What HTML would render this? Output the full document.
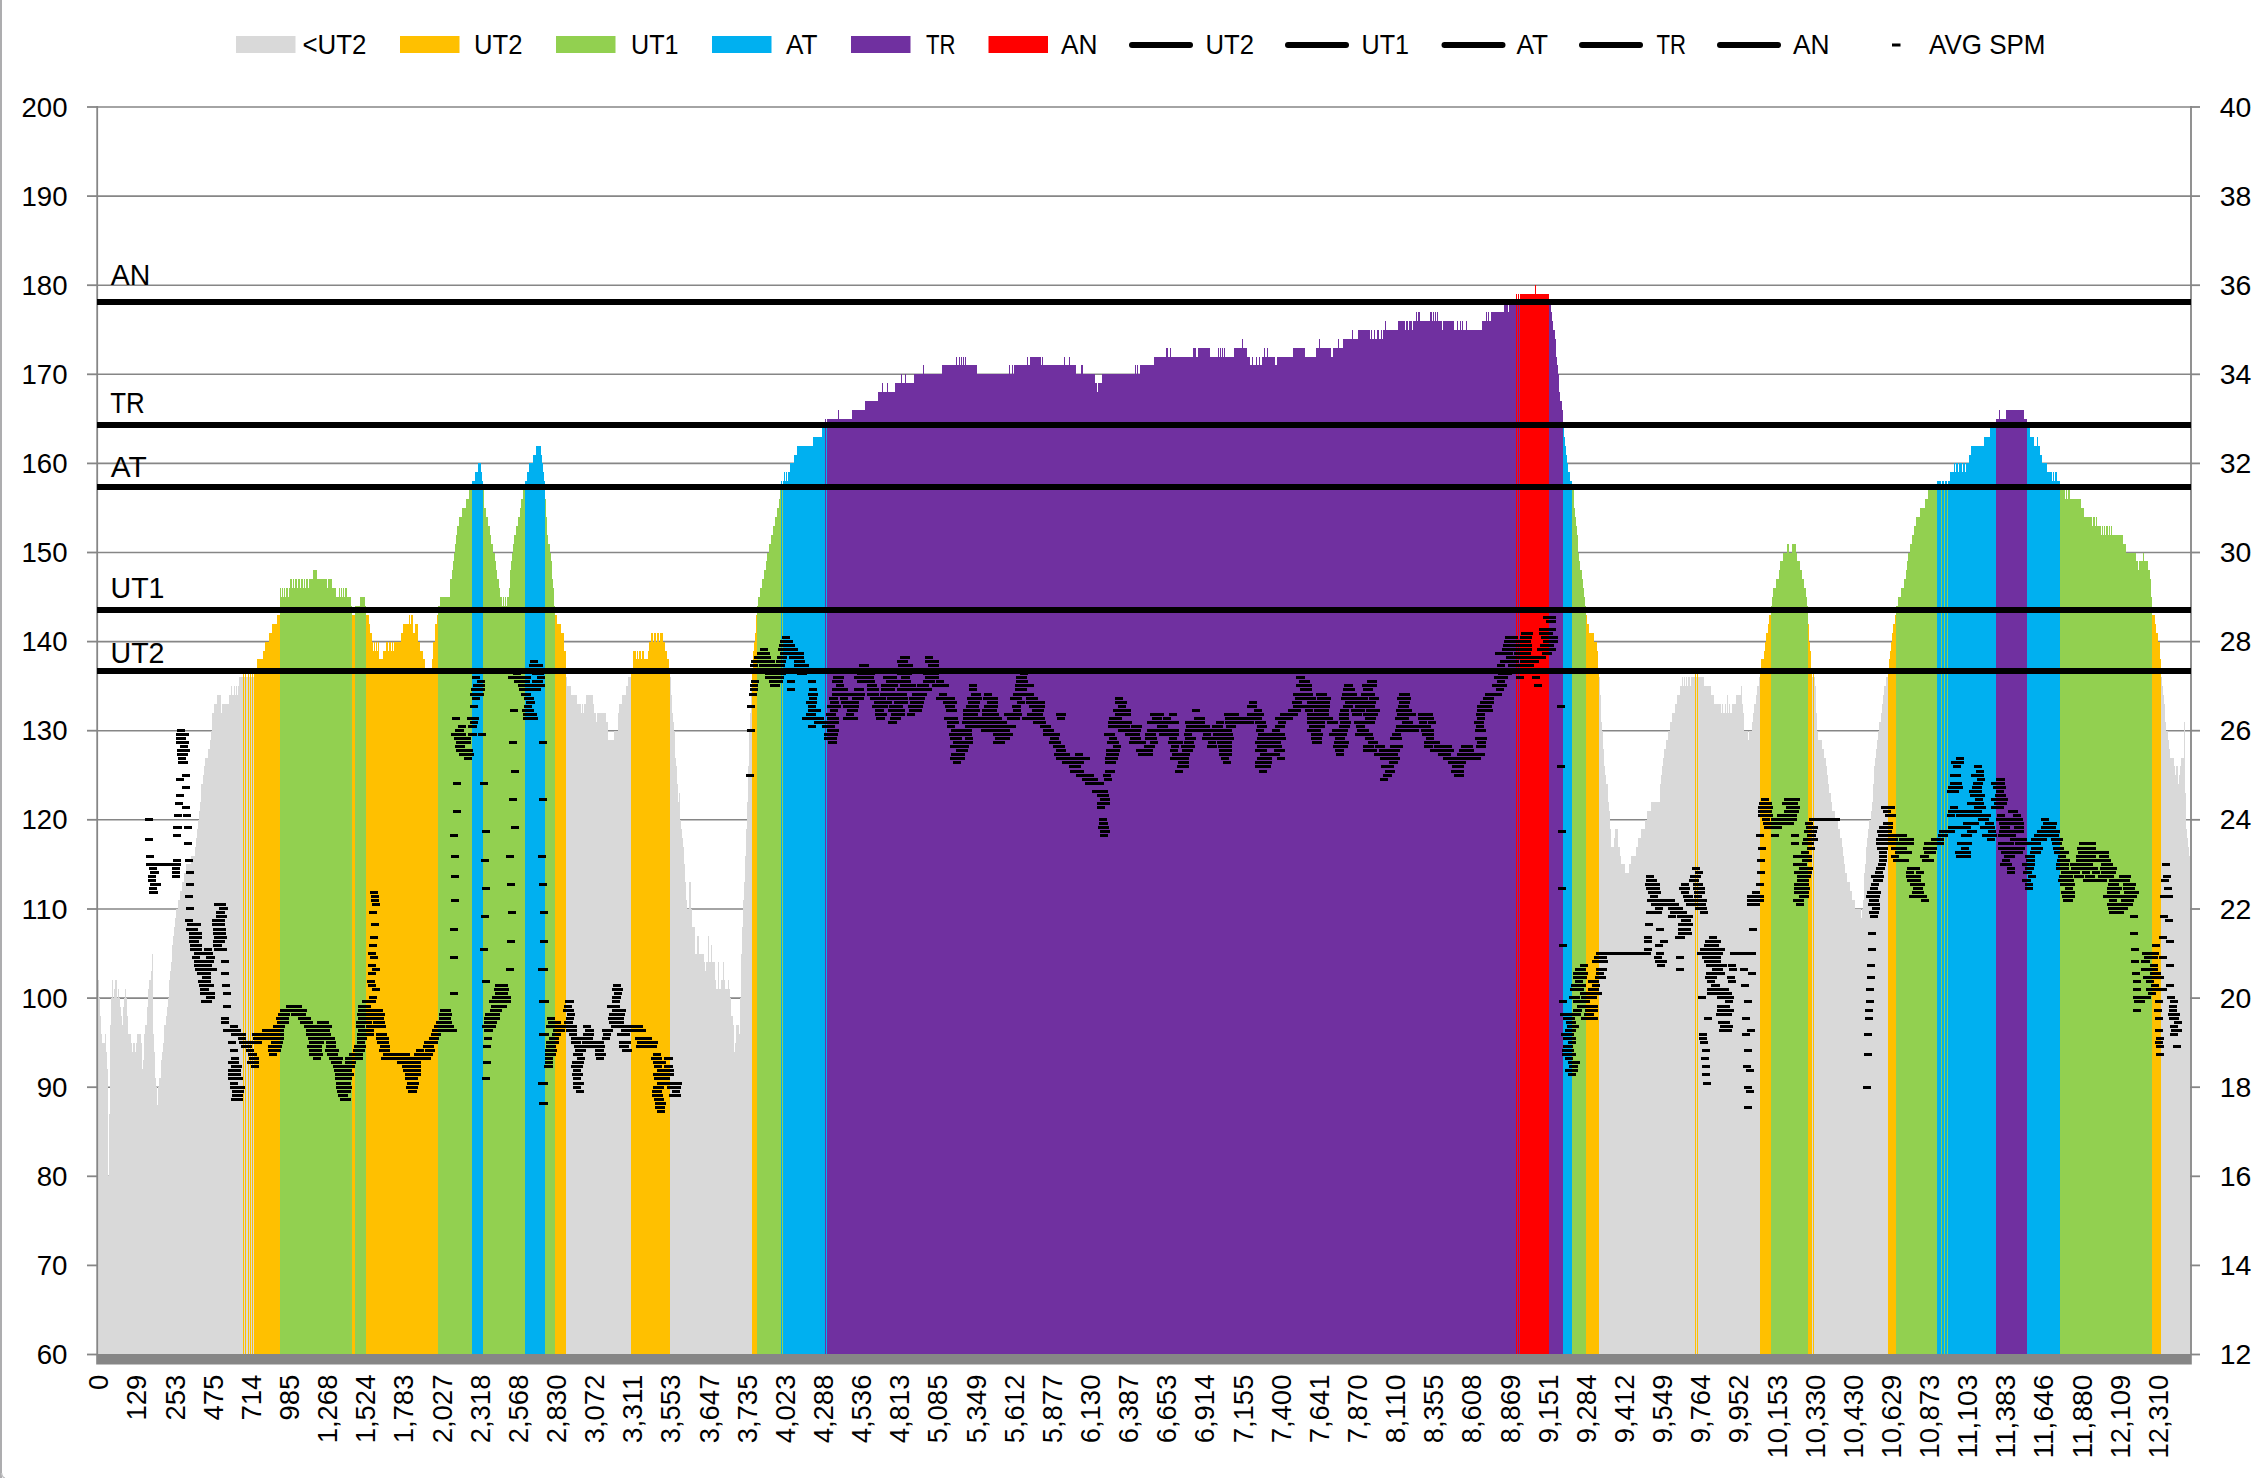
<!DOCTYPE html><html><head><meta charset="utf-8"><title>chart</title><style>html,body{margin:0;padding:0;background:#fff}svg{display:block}text{font-family:"Liberation Sans",sans-serif;fill:#000}</style></head><body>
<svg width="2268" height="1478" viewBox="0 0 2268 1478">
<rect width="2268" height="1478" fill="#fff"/>
<rect x="0" y="0" width="2" height="1478" fill="#ADADAF"/><path d="M1.5 1473Q2 1477.5 5 1478" fill="none" stroke="#C4C4C6" stroke-width="1.5"/>
<g stroke="#868686" stroke-width="1.6">
<line x1="97" y1="1265.4" x2="2191" y2="1265.4"/>
<line x1="97" y1="1176.3" x2="2191" y2="1176.3"/>
<line x1="97" y1="1087.2" x2="2191" y2="1087.2"/>
<line x1="97" y1="998.1" x2="2191" y2="998.1"/>
<line x1="97" y1="909.0" x2="2191" y2="909.0"/>
<line x1="97" y1="819.8" x2="2191" y2="819.8"/>
<line x1="97" y1="730.7" x2="2191" y2="730.7"/>
<line x1="97" y1="641.6" x2="2191" y2="641.6"/>
<line x1="97" y1="552.5" x2="2191" y2="552.5"/>
<line x1="97" y1="463.4" x2="2191" y2="463.4"/>
<line x1="97" y1="374.3" x2="2191" y2="374.3"/>
<line x1="97" y1="285.2" x2="2191" y2="285.2"/>
<line x1="97" y1="196.1" x2="2191" y2="196.1"/>
<line x1="97" y1="107.0" x2="2191" y2="107.0"/>
</g>
<g shape-rendering="crispEdges">
<path fill="#D9D9D9" d="M98 980.2h1V1355h-1zM99 998.1h1V1355h-1zM100 1015.9h1V1355h-1zM101 1033.7h1V1355h-1zM102 1042.6h3V1355h-3zM105 1033.7h1V1355h-1zM106 1051.5h1V1355h-1zM107 1069.3h1V1355h-1zM108 1176.3h1V1355h-1zM109 1113.9h1V1355h-1zM110 1024.8h1V1355h-1zM111 998.1h1V1355h-1zM112 980.2h1V1355h-1zM113 998.1h1V1355h-1zM114 989.1h1V1355h-1zM115 980.2h2V1355h-2zM117 998.1h1V1355h-1zM118 989.1h1V1355h-1zM119 998.1h1V1355h-1zM120 1007.0h1V1355h-1zM121 1015.9h1V1355h-1zM122 1024.8h1V1355h-1zM123 1007.0h1V1355h-1zM124 998.1h1V1355h-1zM125 989.1h1V1355h-1zM126 998.1h1V1355h-1zM127 1015.9h1V1355h-1zM128 1033.7h3V1355h-3zM131 1042.6h1V1355h-1zM132 1051.5h1V1355h-1zM133 1042.6h2V1355h-2zM135 1051.5h1V1355h-1zM136 1042.6h1V1355h-1zM137 1033.7h4V1355h-4zM141 1042.6h1V1355h-1zM142 1069.3h1V1355h-1zM143 1060.4h1V1355h-1zM144 1033.7h1V1355h-1zM145 1024.8h2V1355h-2zM147 1007.0h1V1355h-1zM148 989.1h1V1355h-1zM149 980.2h2V1355h-2zM151 971.3h1V1355h-1zM152 953.5h1V1355h-1zM153 1033.7h1V1355h-1zM154 1051.5h1V1355h-1zM155 1078.3h1V1355h-1zM156 1087.2h1V1355h-1zM157 1105.0h1V1355h-1zM158 1087.2h1V1355h-1zM159 1078.3h2V1355h-2zM161 1060.4h1V1355h-1zM162 1051.5h1V1355h-1zM163 1042.6h1V1355h-1zM164 1024.8h2V1355h-2zM166 1015.9h1V1355h-1zM167 1007.0h1V1355h-1zM168 998.1h1V1355h-1zM169 980.2h1V1355h-1zM170 971.3h1V1355h-1zM171 962.4h1V1355h-1zM172 944.6h1V1355h-1zM173 935.7h1V1355h-1zM174 926.8h1V1355h-1zM175 917.9h1V1355h-1zM176 909.0h2V1355h-2zM178 900.0h2V1355h-2zM180 891.1h2V1355h-2zM182 882.2h2V1355h-2zM184 873.3h2V1355h-2zM186 864.4h5V1355h-5zM191 855.5h4V1355h-4zM195 846.6h1V1355h-1zM196 837.7h1V1355h-1zM197 828.8h1V1355h-1zM198 819.8h1V1355h-1zM199 810.9h1V1355h-1zM200 802.0h1V1355h-1zM201 784.2h2V1355h-2zM203 775.3h1V1355h-1zM204 766.4h1V1355h-1zM205 757.5h3V1355h-3zM208 748.6h2V1355h-2zM210 739.6h1V1355h-1zM211 730.7h1V1355h-1zM212 712.9h2V1355h-2zM214 704.0h3V1355h-3zM217 695.1h4V1355h-4zM221 712.9h1V1355h-1zM222 704.0h7V1355h-7zM229 695.1h2V1355h-2zM231 686.2h1V1355h-1zM232 695.1h2V1355h-2zM234 686.2h1V1355h-1zM235 695.1h1V1355h-1zM236 686.2h1V1355h-1zM237 695.1h1V1355h-1zM238 686.2h1V1355h-1zM239 677.3h4V1355h-4zM244 677.3h1V1355h-1zM246 677.3h2V1355h-2zM249 677.3h1V1355h-1zM251 677.3h1V1355h-1zM253 677.3h1V1355h-1zM566 677.3h1V1355h-1zM567 686.2h4V1355h-4zM571 695.1h6V1355h-6zM577 704.0h4V1355h-4zM581 712.9h1V1355h-1zM582 704.0h1V1355h-1zM583 712.9h1V1355h-1zM584 704.0h2V1355h-2zM586 695.1h7V1355h-7zM593 704.0h1V1355h-1zM594 712.9h2V1355h-2zM596 721.8h1V1355h-1zM597 712.9h9V1355h-9zM606 721.8h2V1355h-2zM608 739.6h6V1355h-6zM614 730.7h4V1355h-4zM618 712.9h1V1355h-1zM619 704.0h3V1355h-3zM622 695.1h4V1355h-4zM626 686.2h2V1355h-2zM628 677.3h3V1355h-3zM670 677.3h1V1355h-1zM671 695.1h1V1355h-1zM672 712.9h1V1355h-1zM673 721.8h1V1355h-1zM674 730.7h1V1355h-1zM675 757.5h1V1355h-1zM676 766.4h1V1355h-1zM677 784.2h1V1355h-1zM678 802.0h1V1355h-1zM679 793.1h1V1355h-1zM680 819.8h1V1355h-1zM681 828.8h1V1355h-1zM682 837.7h1V1355h-1zM683 846.6h1V1355h-1zM684 864.4h1V1355h-1zM685 882.2h1V1355h-1zM686 900.0h1V1355h-1zM687 909.0h2V1355h-2zM689 882.2h2V1355h-2zM691 909.0h1V1355h-1zM692 926.8h3V1355h-3zM695 953.5h2V1355h-2zM697 935.7h2V1355h-2zM699 953.5h5V1355h-5zM704 962.4h1V1355h-1zM705 971.3h1V1355h-1zM706 962.4h2V1355h-2zM708 935.7h1V1355h-1zM709 962.4h2V1355h-2zM711 944.6h1V1355h-1zM712 962.4h3V1355h-3zM715 980.2h1V1355h-1zM716 989.1h2V1355h-2zM718 962.4h1V1355h-1zM719 989.1h2V1355h-2zM721 980.2h2V1355h-2zM723 962.4h1V1355h-1zM724 980.2h1V1355h-1zM725 989.1h3V1355h-3zM728 980.2h1V1355h-1zM729 989.1h1V1355h-1zM730 998.1h1V1355h-1zM731 1015.9h2V1355h-2zM733 1024.8h1V1355h-1zM734 1051.5h1V1355h-1zM735 1042.6h1V1355h-1zM736 1024.8h3V1355h-3zM739 1033.7h1V1355h-1zM740 998.1h1V1355h-1zM741 953.5h1V1355h-1zM742 926.8h1V1355h-1zM743 900.0h1V1355h-1zM744 882.2h1V1355h-1zM745 855.5h1V1355h-1zM746 828.8h1V1355h-1zM747 802.0h1V1355h-1zM748 766.4h1V1355h-1zM749 730.7h1V1355h-1zM750 712.9h1V1355h-1zM751 686.2h1V1355h-1zM1599 677.3h1V1355h-1zM1600 695.1h1V1355h-1zM1601 721.8h1V1355h-1zM1602 730.7h1V1355h-1zM1603 748.6h1V1355h-1zM1604 766.4h1V1355h-1zM1605 775.3h1V1355h-1zM1606 784.2h2V1355h-2zM1608 802.0h1V1355h-1zM1609 810.9h1V1355h-1zM1610 828.8h1V1355h-1zM1611 846.6h3V1355h-3zM1614 837.7h1V1355h-1zM1615 828.8h3V1355h-3zM1618 846.6h2V1355h-2zM1620 855.5h1V1355h-1zM1621 864.4h4V1355h-4zM1625 873.3h4V1355h-4zM1629 864.4h2V1355h-2zM1631 855.5h5V1355h-5zM1636 846.6h2V1355h-2zM1638 837.7h3V1355h-3zM1641 828.8h4V1355h-4zM1645 819.8h2V1355h-2zM1647 810.9h4V1355h-4zM1651 802.0h9V1355h-9zM1660 784.2h1V1355h-1zM1661 775.3h1V1355h-1zM1662 766.4h1V1355h-1zM1663 757.5h1V1355h-1zM1664 748.6h2V1355h-2zM1666 739.6h2V1355h-2zM1668 730.7h2V1355h-2zM1670 721.8h2V1355h-2zM1672 712.9h3V1355h-3zM1675 704.0h2V1355h-2zM1677 695.1h3V1355h-3zM1680 686.2h2V1355h-2zM1682 677.3h1V1355h-1zM1683 686.2h1V1355h-1zM1684 677.3h1V1355h-1zM1685 686.2h1V1355h-1zM1686 677.3h1V1355h-1zM1687 686.2h1V1355h-1zM1688 677.3h2V1355h-2zM1690 686.2h1V1355h-1zM1691 677.3h4V1355h-4zM1696 677.3h1V1355h-1zM1698 677.3h6V1355h-6zM1704 686.2h7V1355h-7zM1711 695.1h3V1355h-3zM1714 704.0h7V1355h-7zM1721 712.9h1V1355h-1zM1722 704.0h1V1355h-1zM1723 712.9h2V1355h-2zM1725 704.0h1V1355h-1zM1726 712.9h1V1355h-1zM1727 695.1h1V1355h-1zM1728 712.9h1V1355h-1zM1729 704.0h1V1355h-1zM1730 712.9h2V1355h-2zM1732 704.0h4V1355h-4zM1736 695.1h5V1355h-5zM1741 686.2h1V1355h-1zM1742 704.0h1V1355h-1zM1743 712.9h1V1355h-1zM1744 730.7h4V1355h-4zM1748 739.6h1V1355h-1zM1749 730.7h3V1355h-3zM1752 721.8h1V1355h-1zM1753 712.9h1V1355h-1zM1754 704.0h2V1355h-2zM1756 695.1h1V1355h-1zM1757 686.2h2V1355h-2zM1759 677.3h1V1355h-1zM1812 677.3h1V1355h-1zM1814 677.3h1V1355h-1zM1815 686.2h1V1355h-1zM1816 712.9h1V1355h-1zM1817 730.7h1V1355h-1zM1818 739.6h4V1355h-4zM1822 748.6h2V1355h-2zM1824 757.5h2V1355h-2zM1826 766.4h1V1355h-1zM1827 775.3h1V1355h-1zM1828 784.2h1V1355h-1zM1829 793.1h2V1355h-2zM1831 802.0h1V1355h-1zM1832 810.9h3V1355h-3zM1835 819.8h3V1355h-3zM1838 828.8h2V1355h-2zM1840 837.7h2V1355h-2zM1842 846.6h1V1355h-1zM1843 855.5h1V1355h-1zM1844 864.4h1V1355h-1zM1845 873.3h2V1355h-2zM1847 882.2h3V1355h-3zM1850 891.1h2V1355h-2zM1852 900.0h3V1355h-3zM1855 909.0h6V1355h-6zM1861 917.9h1V1355h-1zM1862 909.0h1V1355h-1zM1863 900.0h1V1355h-1zM1864 873.3h1V1355h-1zM1865 864.4h1V1355h-1zM1866 846.6h1V1355h-1zM1867 837.7h1V1355h-1zM1868 828.8h1V1355h-1zM1869 819.8h2V1355h-2zM1871 810.9h1V1355h-1zM1872 802.0h1V1355h-1zM1873 784.2h1V1355h-1zM1874 766.4h1V1355h-1zM1875 757.5h1V1355h-1zM1876 748.6h1V1355h-1zM1877 739.6h1V1355h-1zM1878 730.7h1V1355h-1zM1879 721.8h2V1355h-2zM1881 712.9h1V1355h-1zM1882 704.0h1V1355h-1zM1883 695.1h1V1355h-1zM1884 686.2h2V1355h-2zM1886 677.3h2V1355h-2zM2161 677.3h1V1355h-1zM2162 686.2h1V1355h-1zM2163 695.1h1V1355h-1zM2164 704.0h1V1355h-1zM2165 721.8h1V1355h-1zM2166 730.7h2V1355h-2zM2168 739.6h1V1355h-1zM2169 748.6h1V1355h-1zM2170 757.5h4V1355h-4zM2174 766.4h1V1355h-1zM2175 775.3h1V1355h-1zM2176 766.4h2V1355h-2zM2178 784.2h1V1355h-1zM2179 775.3h1V1355h-1zM2180 766.4h1V1355h-1zM2181 757.5h3V1355h-3zM2184 721.8h1V1355h-1zM2185 793.1h1V1355h-1zM2186 828.8h1V1355h-1zM2187 837.7h1V1355h-1zM2188 846.6h1V1355h-1zM2189 855.5h1V1355h-1z"/>
<path fill="#FFC000" d="M243 668.4h1V1355h-1zM245 668.4h1V1355h-1zM248 668.4h1V1355h-1zM250 668.4h1V1355h-1zM252 668.4h1V1355h-1zM254 668.4h3V1355h-3zM257 659.4h6V1355h-6zM263 650.5h2V1355h-2zM265 641.6h4V1355h-4zM269 632.7h3V1355h-3zM272 623.8h5V1355h-5zM277 614.9h3V1355h-3zM352 614.9h3V1355h-3zM366 614.9h3V1355h-3zM369 623.8h1V1355h-1zM370 632.7h2V1355h-2zM372 641.6h1V1355h-1zM373 650.5h1V1355h-1zM374 641.6h1V1355h-1zM375 650.5h1V1355h-1zM376 641.6h1V1355h-1zM377 650.5h1V1355h-1zM378 641.6h1V1355h-1zM379 659.4h4V1355h-4zM383 650.5h3V1355h-3zM386 641.6h2V1355h-2zM388 650.5h1V1355h-1zM389 641.6h2V1355h-2zM391 650.5h1V1355h-1zM392 641.6h1V1355h-1zM393 650.5h1V1355h-1zM394 641.6h7V1355h-7zM401 632.7h2V1355h-2zM403 623.8h6V1355h-6zM409 614.9h1V1355h-1zM410 623.8h1V1355h-1zM411 614.9h2V1355h-2zM413 632.7h2V1355h-2zM415 623.8h3V1355h-3zM418 641.6h2V1355h-2zM420 650.5h3V1355h-3zM423 659.4h2V1355h-2zM425 668.4h7V1355h-7zM432 659.4h1V1355h-1zM433 641.6h2V1355h-2zM435 623.8h2V1355h-2zM437 614.9h1V1355h-1zM555 614.9h2V1355h-2zM557 623.8h4V1355h-4zM561 632.7h3V1355h-3zM564 650.5h2V1355h-2zM631 668.4h2V1355h-2zM633 650.5h3V1355h-3zM636 659.4h1V1355h-1zM637 650.5h1V1355h-1zM638 659.4h1V1355h-1zM639 650.5h2V1355h-2zM641 659.4h1V1355h-1zM642 650.5h2V1355h-2zM644 659.4h4V1355h-4zM648 650.5h1V1355h-1zM649 641.6h2V1355h-2zM651 632.7h2V1355h-2zM653 641.6h1V1355h-1zM654 632.7h2V1355h-2zM656 641.6h1V1355h-1zM657 632.7h2V1355h-2zM659 641.6h1V1355h-1zM660 632.7h3V1355h-3zM663 641.6h2V1355h-2zM665 650.5h2V1355h-2zM667 659.4h2V1355h-2zM669 668.4h1V1355h-1zM752 668.4h1V1355h-1zM753 650.5h1V1355h-1zM754 641.6h1V1355h-1zM755 632.7h1V1355h-1zM756 614.9h1V1355h-1zM1586 614.9h1V1355h-1zM1587 623.8h2V1355h-2zM1589 632.7h5V1355h-5zM1594 641.6h3V1355h-3zM1597 650.5h1V1355h-1zM1598 668.4h1V1355h-1zM1695 668.4h1V1355h-1zM1697 668.4h1V1355h-1zM1760 668.4h1V1355h-1zM1761 659.4h3V1355h-3zM1764 650.5h1V1355h-1zM1765 641.6h1V1355h-1zM1766 632.7h2V1355h-2zM1768 623.8h1V1355h-1zM1769 614.9h2V1355h-2zM1808 623.8h1V1355h-1zM1809 641.6h1V1355h-1zM1810 650.5h1V1355h-1zM1811 668.4h1V1355h-1zM1813 668.4h1V1355h-1zM1888 668.4h1V1355h-1zM1889 659.4h1V1355h-1zM1890 650.5h1V1355h-1zM1891 641.6h1V1355h-1zM1892 632.7h1V1355h-1zM1893 623.8h2V1355h-2zM1895 614.9h1V1355h-1zM2152 614.9h3V1355h-3zM2155 623.8h1V1355h-1zM2156 632.7h2V1355h-2zM2158 641.6h2V1355h-2zM2160 659.4h1V1355h-1z"/>
<path fill="#92D050" d="M280 588.2h1V1355h-1zM281 597.1h1V1355h-1zM282 588.2h1V1355h-1zM283 597.1h1V1355h-1zM284 588.2h1V1355h-1zM285 597.1h1V1355h-1zM286 588.2h2V1355h-2zM288 597.1h1V1355h-1zM289 588.2h1V1355h-1zM290 579.2h2V1355h-2zM292 588.2h1V1355h-1zM293 579.2h1V1355h-1zM294 588.2h1V1355h-1zM295 579.2h2V1355h-2zM297 588.2h1V1355h-1zM298 579.2h2V1355h-2zM300 588.2h1V1355h-1zM301 579.2h2V1355h-2zM303 588.2h1V1355h-1zM304 579.2h1V1355h-1zM305 588.2h1V1355h-1zM306 579.2h2V1355h-2zM308 588.2h1V1355h-1zM309 579.2h4V1355h-4zM313 570.3h4V1355h-4zM317 579.2h10V1355h-10zM327 588.2h1V1355h-1zM328 579.2h4V1355h-4zM332 588.2h4V1355h-4zM336 597.1h3V1355h-3zM339 588.2h1V1355h-1zM340 597.1h1V1355h-1zM341 588.2h1V1355h-1zM342 597.1h1V1355h-1zM343 588.2h1V1355h-1zM344 597.1h1V1355h-1zM345 588.2h2V1355h-2zM347 597.1h4V1355h-4zM351 606.0h1V1355h-1zM355 606.0h5V1355h-5zM360 597.1h5V1355h-5zM365 606.0h1V1355h-1zM438 606.0h2V1355h-2zM440 597.1h10V1355h-10zM450 579.2h2V1355h-2zM452 570.3h1V1355h-1zM453 561.4h1V1355h-1zM454 552.5h1V1355h-1zM455 543.6h1V1355h-1zM456 534.7h1V1355h-1zM457 525.8h2V1355h-2zM459 516.9h3V1355h-3zM462 508.0h4V1355h-4zM466 499.0h3V1355h-3zM469 490.1h3V1355h-3zM483 490.1h1V1355h-1zM484 508.0h2V1355h-2zM486 516.9h2V1355h-2zM488 525.8h2V1355h-2zM490 534.7h1V1355h-1zM491 543.6h2V1355h-2zM493 552.5h2V1355h-2zM495 561.4h1V1355h-1zM496 570.3h1V1355h-1zM497 579.2h2V1355h-2zM499 588.2h1V1355h-1zM500 597.1h2V1355h-2zM502 606.0h1V1355h-1zM503 597.1h1V1355h-1zM504 606.0h1V1355h-1zM505 597.1h1V1355h-1zM506 606.0h1V1355h-1zM507 597.1h2V1355h-2zM509 588.2h1V1355h-1zM510 570.3h1V1355h-1zM511 561.4h1V1355h-1zM512 552.5h1V1355h-1zM513 543.6h1V1355h-1zM514 534.7h2V1355h-2zM516 525.8h2V1355h-2zM518 516.9h2V1355h-2zM520 508.0h1V1355h-1zM521 499.0h2V1355h-2zM523 490.1h2V1355h-2zM545 499.0h1V1355h-1zM546 516.9h1V1355h-1zM547 534.7h1V1355h-1zM548 543.6h2V1355h-2zM550 552.5h1V1355h-1zM551 561.4h1V1355h-1zM552 579.2h1V1355h-1zM553 588.2h1V1355h-1zM554 606.0h1V1355h-1zM757 606.0h1V1355h-1zM758 597.1h2V1355h-2zM760 588.2h2V1355h-2zM762 579.2h2V1355h-2zM764 570.3h2V1355h-2zM766 561.4h1V1355h-1zM767 552.5h2V1355h-2zM769 543.6h2V1355h-2zM771 534.7h2V1355h-2zM773 525.8h2V1355h-2zM775 516.9h2V1355h-2zM777 508.0h2V1355h-2zM779 499.0h1V1355h-1zM780 490.1h1V1355h-1zM782 490.1h1V1355h-1zM1572 490.1h2V1355h-2zM1574 508.0h1V1355h-1zM1575 516.9h1V1355h-1zM1576 525.8h1V1355h-1zM1577 534.7h1V1355h-1zM1578 552.5h1V1355h-1zM1579 561.4h1V1355h-1zM1580 570.3h2V1355h-2zM1582 579.2h1V1355h-1zM1583 588.2h1V1355h-1zM1584 597.1h1V1355h-1zM1585 606.0h1V1355h-1zM1771 606.0h1V1355h-1zM1772 597.1h1V1355h-1zM1773 588.2h3V1355h-3zM1776 579.2h3V1355h-3zM1779 570.3h1V1355h-1zM1780 561.4h3V1355h-3zM1783 552.5h4V1355h-4zM1787 543.6h2V1355h-2zM1789 552.5h3V1355h-3zM1792 543.6h4V1355h-4zM1796 552.5h1V1355h-1zM1797 561.4h3V1355h-3zM1800 570.3h2V1355h-2zM1802 579.2h2V1355h-2zM1804 588.2h2V1355h-2zM1806 597.1h1V1355h-1zM1807 606.0h1V1355h-1zM1896 606.0h2V1355h-2zM1898 597.1h3V1355h-3zM1901 588.2h3V1355h-3zM1904 579.2h2V1355h-2zM1906 570.3h1V1355h-1zM1907 561.4h1V1355h-1zM1908 552.5h2V1355h-2zM1910 543.6h2V1355h-2zM1912 534.7h2V1355h-2zM1914 525.8h2V1355h-2zM1916 516.9h4V1355h-4zM1920 508.0h5V1355h-5zM1925 499.0h3V1355h-3zM1928 490.1h9V1355h-9zM1941 490.1h1V1355h-1zM1944 490.1h1V1355h-1zM1947 490.1h1V1355h-1zM2060 490.1h5V1355h-5zM2065 499.0h1V1355h-1zM2066 490.1h1V1355h-1zM2067 499.0h1V1355h-1zM2068 490.1h2V1355h-2zM2070 499.0h11V1355h-11zM2081 508.0h3V1355h-3zM2084 516.9h8V1355h-8zM2092 525.8h1V1355h-1zM2093 516.9h2V1355h-2zM2095 525.8h1V1355h-1zM2096 516.9h1V1355h-1zM2097 525.8h4V1355h-4zM2101 534.7h1V1355h-1zM2102 525.8h1V1355h-1zM2103 534.7h1V1355h-1zM2104 525.8h1V1355h-1zM2105 534.7h1V1355h-1zM2106 525.8h2V1355h-2zM2108 534.7h1V1355h-1zM2109 525.8h1V1355h-1zM2110 534.7h1V1355h-1zM2111 525.8h1V1355h-1zM2112 534.7h11V1355h-11zM2123 543.6h3V1355h-3zM2126 552.5h10V1355h-10zM2136 561.4h2V1355h-2zM2138 570.3h1V1355h-1zM2139 561.4h4V1355h-4zM2143 552.5h1V1355h-1zM2144 561.4h4V1355h-4zM2148 570.3h2V1355h-2zM2150 579.2h1V1355h-1zM2151 597.1h1V1355h-1z"/>
<path fill="#00B0F0" d="M472 481.2h3V1355h-3zM475 472.3h3V1355h-3zM478 463.4h3V1355h-3zM481 472.3h1V1355h-1zM482 481.2h1V1355h-1zM525 481.2h2V1355h-2zM527 472.3h2V1355h-2zM529 463.4h4V1355h-4zM533 454.5h3V1355h-3zM536 445.6h5V1355h-5zM541 454.5h1V1355h-1zM542 463.4h1V1355h-1zM543 472.3h1V1355h-1zM544 481.2h1V1355h-1zM781 481.2h1V1355h-1zM783 481.2h1V1355h-1zM784 472.3h1V1355h-1zM785 481.2h1V1355h-1zM786 472.3h1V1355h-1zM787 481.2h1V1355h-1zM788 472.3h2V1355h-2zM790 463.4h4V1355h-4zM794 454.5h3V1355h-3zM797 445.6h16V1355h-16zM813 436.7h9V1355h-9zM822 427.8h3V1355h-3zM826 427.8h1V1355h-1zM1563 427.8h1V1355h-1zM1564 436.7h1V1355h-1zM1565 445.6h1V1355h-1zM1566 454.5h1V1355h-1zM1567 463.4h1V1355h-1zM1568 472.3h2V1355h-2zM1570 481.2h2V1355h-2zM1937 481.2h4V1355h-4zM1942 481.2h2V1355h-2zM1945 481.2h2V1355h-2zM1948 481.2h2V1355h-2zM1950 472.3h4V1355h-4zM1954 463.4h1V1355h-1zM1955 472.3h1V1355h-1zM1956 463.4h2V1355h-2zM1958 472.3h1V1355h-1zM1959 463.4h3V1355h-3zM1962 472.3h1V1355h-1zM1963 463.4h2V1355h-2zM1965 472.3h1V1355h-1zM1966 463.4h3V1355h-3zM1969 454.5h2V1355h-2zM1971 445.6h13V1355h-13zM1984 436.7h6V1355h-6zM1990 427.8h6V1355h-6zM2027 427.8h3V1355h-3zM2030 436.7h4V1355h-4zM2034 445.6h3V1355h-3zM2037 436.7h1V1355h-1zM2038 445.6h2V1355h-2zM2040 454.5h2V1355h-2zM2042 463.4h5V1355h-5zM2047 472.3h5V1355h-5zM2052 481.2h1V1355h-1zM2053 472.3h1V1355h-1zM2054 481.2h1V1355h-1zM2055 472.3h2V1355h-2zM2057 481.2h3V1355h-3z"/>
<path fill="#7030A0" d="M825 418.8h1V1355h-1zM827 418.8h11V1355h-11zM838 409.9h1V1355h-1zM839 418.8h13V1355h-13zM852 409.9h13V1355h-13zM865 401.0h13V1355h-13zM878 392.1h4V1355h-4zM882 383.2h1V1355h-1zM883 392.1h4V1355h-4zM887 383.2h1V1355h-1zM888 392.1h7V1355h-7zM895 383.2h6V1355h-6zM901 374.3h1V1355h-1zM902 383.2h3V1355h-3zM905 374.3h1V1355h-1zM906 383.2h8V1355h-8zM914 374.3h9V1355h-9zM923 365.4h1V1355h-1zM924 374.3h18V1355h-18zM942 365.4h14V1355h-14zM956 356.5h1V1355h-1zM957 365.4h2V1355h-2zM959 356.5h1V1355h-1zM960 365.4h1V1355h-1zM961 356.5h1V1355h-1zM962 365.4h1V1355h-1zM963 356.5h1V1355h-1zM964 365.4h1V1355h-1zM965 356.5h1V1355h-1zM966 365.4h11V1355h-11zM977 374.3h32V1355h-32zM1009 365.4h1V1355h-1zM1010 374.3h2V1355h-2zM1012 365.4h1V1355h-1zM1013 374.3h1V1355h-1zM1014 365.4h13V1355h-13zM1027 356.5h1V1355h-1zM1028 365.4h2V1355h-2zM1030 356.5h11V1355h-11zM1041 365.4h1V1355h-1zM1042 356.5h1V1355h-1zM1043 365.4h21V1355h-21zM1064 356.5h1V1355h-1zM1065 365.4h4V1355h-4zM1069 356.5h1V1355h-1zM1070 365.4h6V1355h-6zM1076 374.3h5V1355h-5zM1081 365.4h2V1355h-2zM1083 374.3h12V1355h-12zM1095 383.2h2V1355h-2zM1097 392.1h1V1355h-1zM1098 383.2h4V1355h-4zM1102 374.3h33V1355h-33zM1135 365.4h1V1355h-1zM1136 374.3h1V1355h-1zM1137 365.4h1V1355h-1zM1138 374.3h2V1355h-2zM1140 365.4h14V1355h-14zM1154 356.5h12V1355h-12zM1166 347.6h2V1355h-2zM1168 356.5h2V1355h-2zM1170 347.6h1V1355h-1zM1171 356.5h22V1355h-22zM1193 347.6h3V1355h-3zM1196 356.5h2V1355h-2zM1198 347.6h12V1355h-12zM1210 356.5h8V1355h-8zM1218 347.6h1V1355h-1zM1219 356.5h1V1355h-1zM1220 347.6h1V1355h-1zM1221 356.5h1V1355h-1zM1222 347.6h1V1355h-1zM1223 356.5h1V1355h-1zM1224 347.6h1V1355h-1zM1225 356.5h9V1355h-9zM1234 347.6h8V1355h-8zM1242 338.6h1V1355h-1zM1243 347.6h4V1355h-4zM1247 356.5h3V1355h-3zM1250 365.4h2V1355h-2zM1252 356.5h1V1355h-1zM1253 365.4h3V1355h-3zM1256 356.5h1V1355h-1zM1257 365.4h2V1355h-2zM1259 356.5h1V1355h-1zM1260 365.4h2V1355h-2zM1262 356.5h2V1355h-2zM1264 347.6h1V1355h-1zM1265 356.5h2V1355h-2zM1267 347.6h1V1355h-1zM1268 356.5h7V1355h-7zM1275 365.4h2V1355h-2zM1277 356.5h16V1355h-16zM1293 347.6h12V1355h-12zM1305 356.5h11V1355h-11zM1316 347.6h3V1355h-3zM1319 338.6h1V1355h-1zM1320 347.6h11V1355h-11zM1331 356.5h2V1355h-2zM1333 347.6h5V1355h-5zM1338 338.6h1V1355h-1zM1339 347.6h4V1355h-4zM1343 338.6h9V1355h-9zM1352 329.7h1V1355h-1zM1353 338.6h5V1355h-5zM1358 329.7h12V1355h-12zM1370 338.6h1V1355h-1zM1371 329.7h1V1355h-1zM1372 338.6h2V1355h-2zM1374 329.7h1V1355h-1zM1375 338.6h2V1355h-2zM1377 329.7h2V1355h-2zM1379 338.6h2V1355h-2zM1381 329.7h1V1355h-1zM1382 338.6h1V1355h-1zM1383 329.7h2V1355h-2zM1385 320.8h1V1355h-1zM1386 329.7h12V1355h-12zM1398 320.8h7V1355h-7zM1405 329.7h1V1355h-1zM1406 320.8h2V1355h-2zM1408 329.7h1V1355h-1zM1409 320.8h3V1355h-3zM1412 329.7h1V1355h-1zM1413 320.8h3V1355h-3zM1416 311.9h1V1355h-1zM1417 320.8h1V1355h-1zM1418 311.9h2V1355h-2zM1420 320.8h10V1355h-10zM1430 311.9h2V1355h-2zM1432 320.8h1V1355h-1zM1433 311.9h1V1355h-1zM1434 320.8h1V1355h-1zM1435 311.9h1V1355h-1zM1436 320.8h1V1355h-1zM1437 311.9h1V1355h-1zM1438 320.8h4V1355h-4zM1442 329.7h1V1355h-1zM1443 320.8h11V1355h-11zM1454 329.7h3V1355h-3zM1457 320.8h1V1355h-1zM1458 329.7h2V1355h-2zM1460 320.8h1V1355h-1zM1461 329.7h1V1355h-1zM1462 320.8h1V1355h-1zM1463 329.7h3V1355h-3zM1466 320.8h1V1355h-1zM1467 329.7h15V1355h-15zM1482 320.8h4V1355h-4zM1486 311.9h1V1355h-1zM1487 320.8h1V1355h-1zM1488 311.9h1V1355h-1zM1489 320.8h2V1355h-2zM1491 311.9h13V1355h-13zM1504 303.0h4V1355h-4zM1508 311.9h1V1355h-1zM1509 303.0h7V1355h-7zM1517 303.0h1V1355h-1zM1519 303.0h1V1355h-1zM1549 303.0h2V1355h-2zM1551 311.9h1V1355h-1zM1552 320.8h1V1355h-1zM1553 329.7h2V1355h-2zM1555 338.6h1V1355h-1zM1556 356.5h1V1355h-1zM1557 365.4h1V1355h-1zM1558 374.3h1V1355h-1zM1559 392.1h1V1355h-1zM1560 401.0h2V1355h-2zM1562 409.9h1V1355h-1zM1996 418.8h3V1355h-3zM1999 409.9h1V1355h-1zM2000 418.8h6V1355h-6zM2006 409.9h18V1355h-18zM2024 418.8h3V1355h-3z"/>
<path fill="#FF0000" d="M1516 294.1h1V1355h-1zM1518 294.1h1V1355h-1zM1520 294.1h15V1355h-15zM1535 285.2h1V1355h-1zM1536 294.1h13V1355h-13z"/>
</g>
<g stroke="#868686" stroke-width="1.8">
<line x1="97.2" y1="106" x2="97.2" y2="1355"/><line x1="2191" y1="106" x2="2191" y2="1355"/>
<line x1="87" y1="1354.5" x2="97" y2="1354.5"/><line x1="2191" y1="1354.5" x2="2200" y2="1354.5"/>
<line x1="87" y1="1265.4" x2="97" y2="1265.4"/><line x1="2191" y1="1265.4" x2="2200" y2="1265.4"/>
<line x1="87" y1="1176.3" x2="97" y2="1176.3"/><line x1="2191" y1="1176.3" x2="2200" y2="1176.3"/>
<line x1="87" y1="1087.2" x2="97" y2="1087.2"/><line x1="2191" y1="1087.2" x2="2200" y2="1087.2"/>
<line x1="87" y1="998.1" x2="97" y2="998.1"/><line x1="2191" y1="998.1" x2="2200" y2="998.1"/>
<line x1="87" y1="909.0" x2="97" y2="909.0"/><line x1="2191" y1="909.0" x2="2200" y2="909.0"/>
<line x1="87" y1="819.8" x2="97" y2="819.8"/><line x1="2191" y1="819.8" x2="2200" y2="819.8"/>
<line x1="87" y1="730.7" x2="97" y2="730.7"/><line x1="2191" y1="730.7" x2="2200" y2="730.7"/>
<line x1="87" y1="641.6" x2="97" y2="641.6"/><line x1="2191" y1="641.6" x2="2200" y2="641.6"/>
<line x1="87" y1="552.5" x2="97" y2="552.5"/><line x1="2191" y1="552.5" x2="2200" y2="552.5"/>
<line x1="87" y1="463.4" x2="97" y2="463.4"/><line x1="2191" y1="463.4" x2="2200" y2="463.4"/>
<line x1="87" y1="374.3" x2="97" y2="374.3"/><line x1="2191" y1="374.3" x2="2200" y2="374.3"/>
<line x1="87" y1="285.2" x2="97" y2="285.2"/><line x1="2191" y1="285.2" x2="2200" y2="285.2"/>
<line x1="87" y1="196.1" x2="97" y2="196.1"/><line x1="2191" y1="196.1" x2="2200" y2="196.1"/>
<line x1="87" y1="107.0" x2="97" y2="107.0"/><line x1="2191" y1="107.0" x2="2200" y2="107.0"/>
</g>
<rect x="96.2" y="1354" width="2095.6" height="10.5" fill="#868686"/>
<g stroke="#000" stroke-width="6" shape-rendering="crispEdges">
<line x1="97.2" y1="670.5" x2="2191" y2="670.5"/>
<line x1="97.2" y1="610" x2="2191" y2="610"/>
<line x1="97.2" y1="487" x2="2191" y2="487"/>
<line x1="97.2" y1="425" x2="2191" y2="425"/>
<line x1="97.2" y1="302" x2="2191" y2="302"/>
</g>
<path d="M1543 617h13M1546 621h10M1539 629h17M1521 633h12M1539 633h14M782 637h8M1505 637h13M1520 637h12M1541 637h17M780 641h13M1504 641h27M1543 641h15M779 645h16M1503 645h29M1540 645h14M760 649h8M778 649h20M1502 649h30M1537 649h19M757 653h13M780 653h24M1495 653h18M1514 653h17M1542 653h10M754 657h17M777 657h10M789 657h15M900 657h10M925 657h8M1506 657h40M530 661h8M751 661h24M776 661h10M794 661h11M897 661h11M925 661h14M1500 661h19M1520 661h19M529 665h14M750 665h8M759 665h26M794 665h15M859 665h10M898 665h15M928 665h11M1497 665h8M1508 665h26M530 669h13M765 669h11M777 669h8M798 669h10M859 669h8M900 669h11M927 669h11M1500 669h9M513 673h8M532 673h12M765 673h21M797 673h10M857 673h18M897 673h15M923 673h16M1020 673h8M1498 673h14M472 677h8M508 677h23M537 677h8M765 677h19M833 677h11M854 677h20M883 677h14M901 677h9M925 677h14M1016 677h11M1296 677h9M1494 677h14M1516 677h8M1532 677h8M477 681h8M514 681h16M532 681h11M751 681h8M769 681h14M787 681h8M808 681h8M832 681h11M857 681h18M886 681h25M923 681h12M936 681h8M1016 681h12M1299 681h11M1367 681h10M1497 681h8M473 685h12M518 685h27M750 685h8M770 685h10M836 685h8M867 685h10M881 685h17M900 685h16M917 685h12M932 685h17M969 685h8M1015 685h19M1296 685h16M1344 685h9M1362 685h15M1492 685h15M1534 685h8M471 689h14M519 689h22M750 689h8M787 689h8M809 689h8M832 689h16M854 689h10M867 689h12M881 689h14M897 689h35M969 689h8M1015 689h12M1300 689h12M1343 689h12M1363 689h10M1496 689h8M470 694h14M521 694h10M749 694h8M808 694h10M832 694h33M867 694h12M880 694h27M912 694h15M939 694h8M971 694h10M984 694h8M1013 694h21M1293 694h20M1316 694h11M1342 694h15M1361 694h14M1399 694h11M1485 694h17M472 698h8M524 698h10M809 698h8M829 698h9M840 698h8M852 698h12M870 698h16M887 698h21M909 698h16M936 698h19M967 698h15M983 698h15M1010 698h12M1026 698h12M1115 698h8M1295 698h21M1317 698h14M1341 698h27M1369 698h10M1397 698h14M1483 698h11M526 702h9M806 702h11M830 702h9M841 702h18M874 702h18M894 702h14M910 702h14M943 702h14M968 702h12M987 702h11M1017 702h8M1026 702h19M1115 702h12M1249 702h8M1292 702h10M1307 702h23M1345 702h31M1399 702h11M1480 702h14M470 706h8M524 706h8M747 706h8M808 706h8M827 706h14M843 706h16M872 706h16M889 706h14M908 706h15M945 706h10M966 706h13M984 706h14M1012 706h9M1029 706h16M1118 706h8M1247 706h10M1293 706h37M1343 706h10M1355 706h20M1398 706h11M1477 706h15M1557 706h8M510 710h8M522 710h12M808 710h13M830 710h8M847 710h11M875 710h9M888 710h17M909 710h13M946 710h11M963 710h17M982 710h15M1013 710h8M1032 710h12M1113 710h18M1192 710h8M1254 710h8M1288 710h13M1305 710h8M1314 710h15M1340 710h9M1351 710h14M1366 710h14M1396 710h16M1477 710h16M523 714h14M806 714h10M826 714h10M846 714h8M875 714h12M891 714h14M907 714h8M963 714h15M982 714h17M1004 714h18M1027 714h16M1056 714h10M1115 714h16M1150 714h14M1169 714h8M1224 714h15M1247 714h17M1280 714h18M1307 714h22M1339 714h10M1352 714h10M1363 714h15M1397 714h19M1418 714h15M1476 714h9M452 718h8M467 718h12M523 718h15M802 718h22M827 718h12M843 718h15M876 718h9M890 718h11M944 718h14M963 718h39M1007 718h13M1022 718h23M1057 718h8M1109 718h13M1152 718h10M1163 718h8M1194 718h11M1225 718h37M1275 718h18M1307 718h26M1339 718h10M1365 718h11M1395 718h14M1418 718h16M1477 718h8M470 722h8M814 722h25M888 722h9M947 722h12M962 722h45M1033 722h13M1108 722h24M1147 722h32M1185 722h20M1216 722h8M1225 722h29M1255 722h11M1278 722h8M1307 722h18M1327 722h11M1340 722h11M1354 722h21M1402 722h11M1419 722h8M1428 722h8M1474 722h10M458 726h8M468 726h9M808 726h8M822 726h13M947 726h8M965 726h51M1040 726h11M1108 726h22M1131 726h11M1157 726h11M1186 726h24M1212 726h11M1226 726h10M1257 726h10M1275 726h10M1309 726h16M1339 726h11M1356 726h9M1396 726h35M1476 726h8M177 730h8M455 730h9M747 730h8M827 730h12M951 730h21M981 730h29M1043 730h11M1118 730h23M1147 730h32M1185 730h47M1256 730h8M1272 730h8M1307 730h14M1332 730h16M1357 730h12M1395 730h24M1421 730h13M1475 730h11M176 734h13M451 734h15M468 734h9M478 734h8M824 734h14M949 734h23M993 734h20M1043 734h17M1104 734h11M1125 734h15M1145 734h11M1159 734h20M1184 734h8M1203 734h8M1213 734h20M1258 734h27M1311 734h12M1329 734h18M1355 734h18M1392 734h9M1422 734h12M176 738h10M454 738h17M824 738h13M950 738h12M965 738h8M995 738h15M1050 738h9M1109 738h8M1130 738h11M1145 738h12M1169 738h8M1185 738h11M1202 738h32M1257 738h29M1311 738h11M1335 738h10M1365 738h9M1390 738h12M1426 738h8M1475 738h12M176 742h13M456 742h15M509 742h8M539 742h8M828 742h9M953 742h20M993 742h12M1049 742h12M1107 742h12M1129 742h17M1150 742h8M1168 742h15M1184 742h10M1208 742h8M1217 742h15M1255 742h26M1312 742h10M1334 742h15M1368 742h10M1424 742h16M1477 742h9M180 746h8M455 746h10M950 746h19M1053 746h12M1113 746h8M1144 746h11M1171 746h8M1181 746h14M1207 746h10M1218 746h14M1257 746h25M1333 746h15M1363 746h11M1375 746h10M1390 746h13M1424 746h9M1434 746h18M1461 746h12M1476 746h10M177 750h13M456 750h17M956 750h12M1056 750h10M1106 750h14M1136 750h17M1170 750h8M1182 750h11M1219 750h13M1255 750h12M1274 750h11M1335 750h9M1363 750h14M1379 750h21M1430 750h24M1459 750h15M177 754h11M459 754h15M951 754h14M1054 754h16M1075 754h8M1106 754h13M1138 754h15M1172 754h18M1219 754h13M1260 754h20M1336 754h8M1374 754h24M1438 754h13M1457 754h28M178 758h8M464 758h8M950 758h15M1056 758h34M1105 758h13M1170 758h19M1221 758h8M1257 758h15M1277 758h8M1380 758h20M1443 758h38M1956 758h8M178 762h10M953 762h8M1062 762h22M1105 762h11M1178 762h11M1223 762h8M1255 762h17M1389 762h9M1448 762h18M1951 762h13M1069 766h12M1177 766h12M1255 766h16M1381 766h13M1452 766h12M1557 766h8M1953 766h8M1974 766h8M511 771h8M1070 771h14M1105 771h10M1175 771h8M1259 771h8M1385 771h10M1451 771h13M1976 771h8M182 775h8M746 775h8M1076 775h18M1103 775h8M1383 775h9M1454 775h10M1950 775h11M1971 775h13M176 779h8M1082 779h16M1104 779h8M1380 779h8M1977 779h8M1996 779h9M453 783h8M480 783h8M1085 783h19M1950 783h12M1973 783h10M1991 783h14M182 787h8M1948 787h15M1972 787h10M1993 787h13M1092 791h16M1947 791h12M1969 791h13M1996 791h8M176 795h8M1097 795h12M1970 795h15M1995 795h11M509 799h8M539 799h8M1100 799h10M1761 799h8M1784 799h16M1975 799h8M1991 799h17M175 803h8M1097 803h13M1759 803h13M1782 803h16M1967 803h17M1994 803h13M182 807h8M1097 807h8M1758 807h15M1786 807h14M1881 807h14M1950 807h8M1974 807h12M1991 807h13M453 811h8M1758 811h14M1784 811h15M1883 811h8M1948 811h34M2008 811h10M174 815h8M183 815h8M1758 815h15M1777 815h20M1885 815h11M1947 815h8M1956 815h35M1997 815h8M2013 815h8M145 819h8M1099 819h8M1762 819h8M1771 819h26M1809 819h31M1978 819h11M1996 819h27M2041 819h8M1099 823h9M1763 823h31M1805 823h8M1883 823h10M1963 823h16M1985 823h9M1999 823h25M2043 823h14M173 827h9M184 827h8M511 827h8M1098 827h11M1764 827h18M1806 827h12M1879 827h14M1948 827h23M1980 827h15M2000 827h10M2014 827h10M2041 827h15M482 831h8M1100 831h10M1558 831h8M1804 831h13M1877 831h15M1939 831h16M1967 831h10M1988 831h8M1999 831h25M2037 831h23M173 835h8M450 835h8M1100 835h8M1756 835h8M1771 835h8M1791 835h8M1807 835h9M1878 835h29M1938 835h10M1961 835h11M1982 835h15M1998 835h18M2034 835h25M145 839h8M1803 839h15M1876 839h22M1899 839h15M1931 839h13M1987 839h8M2010 839h17M2031 839h16M2051 839h12M184 843h8M1791 843h8M1802 843h12M1876 843h38M1924 843h20M1957 843h15M1998 843h16M2015 843h26M2052 843h10M2079 843h17M1758 848h8M1807 848h8M1877 848h11M1891 848h16M1923 848h14M1961 848h8M1998 848h27M2031 848h12M2053 848h11M2077 848h19M1801 852h8M1879 852h8M1895 852h17M1924 852h12M1955 852h16M2001 852h22M2030 852h11M2054 852h15M2078 852h31M146 856h8M451 856h8M506 856h8M538 856h8M1793 856h19M1879 856h8M1891 856h8M1920 856h9M1956 856h15M2004 856h11M2025 856h10M2058 856h8M2076 856h20M2099 856h10M173 860h8M185 860h8M481 860h8M1757 860h8M1802 860h10M1879 860h8M1893 860h16M1922 860h12M2002 860h8M2026 860h9M2057 860h13M2076 860h35M146 864h35M1793 864h14M1878 864h8M2000 864h12M2022 864h13M2056 864h13M2070 864h23M2101 864h12M2162 864h8M149 868h8M172 868h8M1692 868h8M1799 868h14M1876 868h9M1907 868h13M2007 868h8M2025 868h9M2056 868h13M2071 868h27M2100 868h17M150 872h9M172 872h8M186 872h8M1695 872h8M1757 872h8M1794 872h18M1875 872h8M1906 872h8M1916 872h8M2007 872h8M2023 872h9M2061 872h19M2082 872h8M2092 872h8M2101 872h15M148 876h8M172 876h8M451 876h8M1646 876h8M1690 876h11M1797 876h14M1871 876h13M1906 876h15M2028 876h8M2059 876h14M2074 876h10M2085 876h10M2098 876h16M2119 876h12M2163 876h8M148 880h8M1646 880h11M1689 880h10M1797 880h12M1873 880h10M1907 880h14M2022 880h9M2058 880h16M2083 880h24M2109 880h21M2161 880h8M150 884h11M186 884h8M507 884h8M539 884h8M1645 884h15M1681 884h8M1693 884h10M1756 884h8M1794 884h15M1871 884h8M1910 884h15M2025 884h8M2060 884h15M2108 884h11M2123 884h13M149 888h8M482 888h8M1558 888h8M1646 888h14M1679 888h11M1693 888h12M1794 888h16M1870 888h8M1913 888h10M2025 888h8M2065 888h8M2107 888h15M2123 888h12M2164 888h8M149 892h9M370 892h8M1648 892h13M1681 892h8M1694 892h11M1752 892h8M1794 892h15M1867 892h14M1912 892h12M2061 892h14M2107 892h13M2124 892h15M185 896h8M371 896h8M1650 896h8M1683 896h10M1694 896h8M1747 896h17M1799 896h10M1866 896h14M1909 896h18M2062 896h13M2103 896h34M2160 896h13M371 900h8M451 900h8M1647 900h28M1684 900h23M1747 900h17M1793 900h11M1869 900h10M1921 900h8M2063 900h10M2109 900h8M2121 900h13M214 904h12M372 904h8M1651 904h28M1686 904h20M1747 904h13M1796 904h8M1868 904h12M2107 904h26M186 908h8M219 908h9M1655 908h8M1668 908h15M1695 908h12M1872 908h8M2108 908h20M216 912h9M369 912h8M508 912h8M540 912h8M1646 912h16M1670 912h17M1700 912h8M1869 912h10M2109 912h15M216 916h11M481 916h8M1668 916h8M1677 916h16M1870 916h8M2130 916h8M2160 916h8M185 920h8M212 920h13M1681 920h10M2165 920h8M187 924h14M212 924h13M371 924h8M1645 924h8M1678 924h15M186 929h12M213 929h13M450 929h8M1656 929h8M1678 929h13M1749 929h8M189 933h13M213 933h13M1678 933h14M1868 933h8M2130 933h8M189 937h13M214 937h13M370 937h8M1644 937h8M1675 937h10M1709 937h8M2159 937h8M189 941h10M213 941h12M507 941h8M540 941h8M1644 941h8M1660 941h8M1705 941h16M2166 941h8M190 945h12M213 945h9M369 945h8M1559 945h8M1655 945h8M1704 945h15M2152 945h8M190 949h12M204 949h8M214 949h13M480 949h8M1644 949h8M1700 949h25M1868 949h8M2131 949h8M194 953h19M368 953h8M1596 953h55M1656 953h8M1697 953h26M1730 953h26M2142 953h17M192 957h8M206 957h9M370 957h8M450 957h8M1594 957h13M1654 957h8M1676 957h8M1702 957h19M2144 957h14M2159 957h8M194 961h20M221 961h8M1592 961h16M1655 961h12M1704 961h17M2131 961h8M2141 961h9M194 965h18M368 965h8M1580 965h8M1657 965h8M1706 965h21M1728 965h8M1867 965h8M2150 965h8M2166 965h8M195 969h22M372 969h8M506 969h8M538 969h10M1575 969h11M1596 969h11M1676 969h8M1712 969h11M1729 969h8M1740 969h8M2141 969h17M197 973h14M221 973h8M368 973h8M1573 973h15M1596 973h8M1706 973h19M1748 973h8M2132 973h8M2150 973h11M202 977h9M1573 977h14M1595 977h11M1705 977h12M1727 977h8M1867 977h8M2143 977h21M198 981h13M367 981h8M482 981h8M1575 981h8M1588 981h11M1707 981h8M1728 981h8M2133 981h8M2146 981h8M199 985h15M222 985h8M368 985h8M495 985h13M613 985h8M1571 985h15M1592 985h8M1711 985h9M1741 985h8M2151 985h8M2166 985h8M200 989h9M372 989h8M494 989h15M612 989h11M1570 989h14M1588 989h11M1707 989h22M1866 989h8M2133 989h8M2146 989h21M200 993h15M223 993h8M450 993h8M495 993h13M614 993h8M1580 993h22M1707 993h25M2148 993h8M206 997h9M369 997h8M492 997h19M612 997h9M1569 997h11M1581 997h16M1698 997h8M1717 997h17M2133 997h18M2167 997h8M201 1001h11M362 1001h14M489 1001h22M539 1001h10M565 1001h9M612 1001h8M1559 1001h8M1573 1001h17M1725 1001h8M1744 1001h8M1866 1001h8M2134 1001h11M2155 1001h8M2170 1001h8M223 1006h8M286 1006h16M358 1006h13M491 1006h16M564 1006h8M607 1006h13M1577 1006h21M1717 1006h13M2169 1006h8M280 1010h27M358 1010h25M440 1010h11M490 1010h12M563 1010h11M612 1010h14M1573 1010h9M1585 1010h13M1717 1010h17M1865 1010h8M2133 1010h8M2154 1010h8M2169 1010h8M278 1014h12M291 1014h15M357 1014h28M439 1014h13M485 1014h15M567 1014h8M609 1014h16M1560 1014h21M1584 1014h10M1716 1014h16M2168 1014h12M221 1018h8M276 1018h13M298 1018h13M358 1018h26M439 1018h12M484 1018h16M547 1018h8M566 1018h8M608 1018h16M1563 1018h12M1581 1018h17M1704 1018h8M1742 1018h8M1865 1018h8M2155 1018h8M2169 1018h10M221 1022h8M277 1022h12M300 1022h13M317 1022h12M356 1022h16M373 1022h12M436 1022h16M484 1022h13M548 1022h13M564 1022h9M609 1022h15M1566 1022h10M1718 1022h12M2174 1022h8M230 1026h8M273 1026h12M304 1026h28M356 1026h9M366 1026h20M434 1026h20M482 1026h14M546 1026h31M583 1026h8M611 1026h32M1567 1026h12M1720 1026h13M2170 1026h8M223 1030h18M262 1030h22M306 1030h24M358 1030h16M432 1030h25M484 1030h9M553 1030h12M566 1030h11M585 1030h9M602 1030h11M621 1030h25M1565 1030h11M1719 1030h13M1747 1030h8M2155 1030h8M2171 1030h11M231 1034h15M252 1034h32M306 1034h25M357 1034h17M376 1034h11M431 1034h10M539 1034h10M552 1034h9M569 1034h8M583 1034h11M603 1034h8M617 1034h13M1561 1034h13M1699 1034h8M1742 1034h8M1864 1034h8M2170 1034h8M238 1038h8M253 1038h31M308 1038h27M357 1038h10M376 1038h13M429 1038h10M484 1038h8M549 1038h10M571 1038h22M602 1038h8M635 1038h17M1563 1038h13M1699 1038h8M2156 1038h8M228 1042h8M239 1042h23M271 1042h12M309 1042h15M326 1042h10M357 1042h8M377 1042h12M424 1042h14M546 1042h13M571 1042h10M582 1042h22M619 1042h12M637 1042h21M1568 1042h8M1700 1042h8M2155 1042h8M241 1046h11M268 1046h14M307 1046h15M326 1046h10M354 1046h12M380 1046h10M423 1046h11M483 1046h8M546 1046h10M574 1046h31M619 1046h10M636 1046h21M1563 1046h10M2156 1046h8M2173 1046h8M230 1050h8M246 1050h8M268 1050h13M309 1050h13M325 1050h14M353 1050h12M379 1050h11M416 1050h8M425 1050h10M545 1050h12M575 1050h11M595 1050h9M622 1050h10M1562 1050h12M1702 1050h8M1744 1050h8M248 1054h9M269 1054h8M309 1054h14M327 1054h11M349 1054h14M383 1054h27M414 1054h19M545 1054h11M573 1054h10M595 1054h11M653 1054h8M1562 1054h14M1864 1054h8M2156 1054h8M231 1058h8M249 1058h10M313 1058h8M329 1058h14M345 1058h18M381 1058h50M545 1058h8M577 1058h8M596 1058h8M651 1058h11M664 1058h9M1565 1058h8M1701 1058h8M228 1062h11M247 1062h12M331 1062h11M345 1062h11M397 1062h24M483 1062h8M545 1062h8M572 1062h12M653 1062h13M1568 1062h12M231 1066h11M251 1066h8M333 1066h22M402 1066h19M544 1066h9M571 1066h12M654 1066h8M664 1066h9M1569 1066h9M1702 1066h8M1743 1066h8M228 1070h13M334 1070h18M403 1070h18M573 1070h8M657 1070h17M1565 1070h13M1746 1070h8M228 1074h13M335 1074h19M405 1074h16M572 1074h11M653 1074h21M1568 1074h8M1702 1074h8M228 1078h15M335 1078h17M405 1078h13M482 1078h8M573 1078h8M654 1078h16M230 1083h8M336 1083h15M407 1083h12M538 1083h10M573 1083h11M657 1083h25M1703 1083h8M230 1087h15M336 1087h16M406 1087h12M573 1087h8M653 1087h11M667 1087h14M1744 1087h8M1863 1087h8M232 1091h12M337 1091h14M408 1091h9M576 1091h8M652 1091h10M672 1091h8M1746 1091h8M232 1095h11M338 1095h10M652 1095h11M669 1095h12M231 1099h12M340 1099h11M654 1099h10M539 1103h9M655 1103h11M655 1107h10M1744 1107h8M657 1111h8" stroke="#000" stroke-width="3" fill="none" shape-rendering="crispEdges" transform="translate(0,0.5)"/>
<text x="110.5" y="662.5" font-size="29.3" text-anchor="start" textLength="54" lengthAdjust="spacingAndGlyphs">UT2</text>
<text x="110.5" y="597.7" font-size="29.3" text-anchor="start" textLength="54" lengthAdjust="spacingAndGlyphs">UT1</text>
<text x="110.8" y="477" font-size="29.3" text-anchor="start" textLength="36" lengthAdjust="spacingAndGlyphs">AT</text>
<text x="110.3" y="412.7" font-size="29.3" text-anchor="start" textLength="34.5" lengthAdjust="spacingAndGlyphs">TR</text>
<text x="110.8" y="284.7" font-size="29.3" text-anchor="start" textLength="39.5" lengthAdjust="spacingAndGlyphs">AN</text>
<text x="67.5" y="1364.1" font-size="27.4" text-anchor="end" textLength="30.8" lengthAdjust="spacingAndGlyphs">60</text>
<text x="67.5" y="1275.0" font-size="27.4" text-anchor="end" textLength="30.8" lengthAdjust="spacingAndGlyphs">70</text>
<text x="67.5" y="1185.9" font-size="27.4" text-anchor="end" textLength="30.8" lengthAdjust="spacingAndGlyphs">80</text>
<text x="67.5" y="1096.8" font-size="27.4" text-anchor="end" textLength="30.8" lengthAdjust="spacingAndGlyphs">90</text>
<text x="67.5" y="1007.7" font-size="27.4" text-anchor="end" textLength="46" lengthAdjust="spacingAndGlyphs">100</text>
<text x="67.5" y="918.6" font-size="27.4" text-anchor="end" textLength="46" lengthAdjust="spacingAndGlyphs">110</text>
<text x="67.5" y="829.4" font-size="27.4" text-anchor="end" textLength="46" lengthAdjust="spacingAndGlyphs">120</text>
<text x="67.5" y="740.3" font-size="27.4" text-anchor="end" textLength="46" lengthAdjust="spacingAndGlyphs">130</text>
<text x="67.5" y="651.2" font-size="27.4" text-anchor="end" textLength="46" lengthAdjust="spacingAndGlyphs">140</text>
<text x="67.5" y="562.1" font-size="27.4" text-anchor="end" textLength="46" lengthAdjust="spacingAndGlyphs">150</text>
<text x="67.5" y="473.0" font-size="27.4" text-anchor="end" textLength="46" lengthAdjust="spacingAndGlyphs">160</text>
<text x="67.5" y="383.9" font-size="27.4" text-anchor="end" textLength="46" lengthAdjust="spacingAndGlyphs">170</text>
<text x="67.5" y="294.8" font-size="27.4" text-anchor="end" textLength="46" lengthAdjust="spacingAndGlyphs">180</text>
<text x="67.5" y="205.7" font-size="27.4" text-anchor="end" textLength="46" lengthAdjust="spacingAndGlyphs">190</text>
<text x="67.5" y="116.6" font-size="27.4" text-anchor="end" textLength="46" lengthAdjust="spacingAndGlyphs">200</text>
<text x="2219.8" y="1364.1" font-size="27.4" text-anchor="start" textLength="31.6" lengthAdjust="spacingAndGlyphs">12</text>
<text x="2219.8" y="1275.0" font-size="27.4" text-anchor="start" textLength="31.6" lengthAdjust="spacingAndGlyphs">14</text>
<text x="2219.8" y="1185.9" font-size="27.4" text-anchor="start" textLength="31.6" lengthAdjust="spacingAndGlyphs">16</text>
<text x="2219.8" y="1096.8" font-size="27.4" text-anchor="start" textLength="31.6" lengthAdjust="spacingAndGlyphs">18</text>
<text x="2219.8" y="1007.7" font-size="27.4" text-anchor="start" textLength="31.6" lengthAdjust="spacingAndGlyphs">20</text>
<text x="2219.8" y="918.6" font-size="27.4" text-anchor="start" textLength="31.6" lengthAdjust="spacingAndGlyphs">22</text>
<text x="2219.8" y="829.4" font-size="27.4" text-anchor="start" textLength="31.6" lengthAdjust="spacingAndGlyphs">24</text>
<text x="2219.8" y="740.3" font-size="27.4" text-anchor="start" textLength="31.6" lengthAdjust="spacingAndGlyphs">26</text>
<text x="2219.8" y="651.2" font-size="27.4" text-anchor="start" textLength="31.6" lengthAdjust="spacingAndGlyphs">28</text>
<text x="2219.8" y="562.1" font-size="27.4" text-anchor="start" textLength="31.6" lengthAdjust="spacingAndGlyphs">30</text>
<text x="2219.8" y="473.0" font-size="27.4" text-anchor="start" textLength="31.6" lengthAdjust="spacingAndGlyphs">32</text>
<text x="2219.8" y="383.9" font-size="27.4" text-anchor="start" textLength="31.6" lengthAdjust="spacingAndGlyphs">34</text>
<text x="2219.8" y="294.8" font-size="27.4" text-anchor="start" textLength="31.6" lengthAdjust="spacingAndGlyphs">36</text>
<text x="2219.8" y="205.7" font-size="27.4" text-anchor="start" textLength="31.6" lengthAdjust="spacingAndGlyphs">38</text>
<text x="2219.8" y="116.6" font-size="27.4" text-anchor="start" textLength="31.6" lengthAdjust="spacingAndGlyphs">40</text>
<text transform="translate(108.3,1374.6) rotate(-90)" font-size="27.4" text-anchor="end" textLength="15.3" lengthAdjust="spacingAndGlyphs">0</text>
<text transform="translate(146.4,1374.6) rotate(-90)" font-size="27.4" text-anchor="end" textLength="45.9" lengthAdjust="spacingAndGlyphs">129</text>
<text transform="translate(184.6,1374.6) rotate(-90)" font-size="27.4" text-anchor="end" textLength="45.9" lengthAdjust="spacingAndGlyphs">253</text>
<text transform="translate(222.7,1374.6) rotate(-90)" font-size="27.4" text-anchor="end" textLength="45.9" lengthAdjust="spacingAndGlyphs">475</text>
<text transform="translate(260.9,1374.6) rotate(-90)" font-size="27.4" text-anchor="end" textLength="45.9" lengthAdjust="spacingAndGlyphs">714</text>
<text transform="translate(299.0,1374.6) rotate(-90)" font-size="27.4" text-anchor="end" textLength="45.9" lengthAdjust="spacingAndGlyphs">985</text>
<text transform="translate(337.1,1374.6) rotate(-90)" font-size="27.4" text-anchor="end" textLength="68.7" lengthAdjust="spacingAndGlyphs">1,268</text>
<text transform="translate(375.3,1374.6) rotate(-90)" font-size="27.4" text-anchor="end" textLength="68.7" lengthAdjust="spacingAndGlyphs">1,524</text>
<text transform="translate(413.4,1374.6) rotate(-90)" font-size="27.4" text-anchor="end" textLength="68.7" lengthAdjust="spacingAndGlyphs">1,783</text>
<text transform="translate(451.6,1374.6) rotate(-90)" font-size="27.4" text-anchor="end" textLength="68.7" lengthAdjust="spacingAndGlyphs">2,027</text>
<text transform="translate(489.7,1374.6) rotate(-90)" font-size="27.4" text-anchor="end" textLength="68.7" lengthAdjust="spacingAndGlyphs">2,318</text>
<text transform="translate(527.8,1374.6) rotate(-90)" font-size="27.4" text-anchor="end" textLength="68.7" lengthAdjust="spacingAndGlyphs">2,568</text>
<text transform="translate(566.0,1374.6) rotate(-90)" font-size="27.4" text-anchor="end" textLength="68.7" lengthAdjust="spacingAndGlyphs">2,830</text>
<text transform="translate(604.1,1374.6) rotate(-90)" font-size="27.4" text-anchor="end" textLength="68.7" lengthAdjust="spacingAndGlyphs">3,072</text>
<text transform="translate(642.3,1374.6) rotate(-90)" font-size="27.4" text-anchor="end" textLength="68.7" lengthAdjust="spacingAndGlyphs">3,311</text>
<text transform="translate(680.4,1374.6) rotate(-90)" font-size="27.4" text-anchor="end" textLength="68.7" lengthAdjust="spacingAndGlyphs">3,553</text>
<text transform="translate(718.5,1374.6) rotate(-90)" font-size="27.4" text-anchor="end" textLength="68.7" lengthAdjust="spacingAndGlyphs">3,647</text>
<text transform="translate(756.7,1374.6) rotate(-90)" font-size="27.4" text-anchor="end" textLength="68.7" lengthAdjust="spacingAndGlyphs">3,735</text>
<text transform="translate(794.8,1374.6) rotate(-90)" font-size="27.4" text-anchor="end" textLength="68.7" lengthAdjust="spacingAndGlyphs">4,023</text>
<text transform="translate(833.0,1374.6) rotate(-90)" font-size="27.4" text-anchor="end" textLength="68.7" lengthAdjust="spacingAndGlyphs">4,288</text>
<text transform="translate(871.1,1374.6) rotate(-90)" font-size="27.4" text-anchor="end" textLength="68.7" lengthAdjust="spacingAndGlyphs">4,536</text>
<text transform="translate(909.2,1374.6) rotate(-90)" font-size="27.4" text-anchor="end" textLength="68.7" lengthAdjust="spacingAndGlyphs">4,813</text>
<text transform="translate(947.4,1374.6) rotate(-90)" font-size="27.4" text-anchor="end" textLength="68.7" lengthAdjust="spacingAndGlyphs">5,085</text>
<text transform="translate(985.5,1374.6) rotate(-90)" font-size="27.4" text-anchor="end" textLength="68.7" lengthAdjust="spacingAndGlyphs">5,349</text>
<text transform="translate(1023.7,1374.6) rotate(-90)" font-size="27.4" text-anchor="end" textLength="68.7" lengthAdjust="spacingAndGlyphs">5,612</text>
<text transform="translate(1061.8,1374.6) rotate(-90)" font-size="27.4" text-anchor="end" textLength="68.7" lengthAdjust="spacingAndGlyphs">5,877</text>
<text transform="translate(1099.9,1374.6) rotate(-90)" font-size="27.4" text-anchor="end" textLength="68.7" lengthAdjust="spacingAndGlyphs">6,130</text>
<text transform="translate(1138.1,1374.6) rotate(-90)" font-size="27.4" text-anchor="end" textLength="68.7" lengthAdjust="spacingAndGlyphs">6,387</text>
<text transform="translate(1176.2,1374.6) rotate(-90)" font-size="27.4" text-anchor="end" textLength="68.7" lengthAdjust="spacingAndGlyphs">6,653</text>
<text transform="translate(1214.4,1374.6) rotate(-90)" font-size="27.4" text-anchor="end" textLength="68.7" lengthAdjust="spacingAndGlyphs">6,914</text>
<text transform="translate(1252.5,1374.6) rotate(-90)" font-size="27.4" text-anchor="end" textLength="68.7" lengthAdjust="spacingAndGlyphs">7,155</text>
<text transform="translate(1290.6,1374.6) rotate(-90)" font-size="27.4" text-anchor="end" textLength="68.7" lengthAdjust="spacingAndGlyphs">7,400</text>
<text transform="translate(1328.8,1374.6) rotate(-90)" font-size="27.4" text-anchor="end" textLength="68.7" lengthAdjust="spacingAndGlyphs">7,641</text>
<text transform="translate(1366.9,1374.6) rotate(-90)" font-size="27.4" text-anchor="end" textLength="68.7" lengthAdjust="spacingAndGlyphs">7,870</text>
<text transform="translate(1405.1,1374.6) rotate(-90)" font-size="27.4" text-anchor="end" textLength="68.7" lengthAdjust="spacingAndGlyphs">8,110</text>
<text transform="translate(1443.2,1374.6) rotate(-90)" font-size="27.4" text-anchor="end" textLength="68.7" lengthAdjust="spacingAndGlyphs">8,355</text>
<text transform="translate(1481.3,1374.6) rotate(-90)" font-size="27.4" text-anchor="end" textLength="68.7" lengthAdjust="spacingAndGlyphs">8,608</text>
<text transform="translate(1519.5,1374.6) rotate(-90)" font-size="27.4" text-anchor="end" textLength="68.7" lengthAdjust="spacingAndGlyphs">8,869</text>
<text transform="translate(1557.6,1374.6) rotate(-90)" font-size="27.4" text-anchor="end" textLength="68.7" lengthAdjust="spacingAndGlyphs">9,151</text>
<text transform="translate(1595.8,1374.6) rotate(-90)" font-size="27.4" text-anchor="end" textLength="68.7" lengthAdjust="spacingAndGlyphs">9,284</text>
<text transform="translate(1633.9,1374.6) rotate(-90)" font-size="27.4" text-anchor="end" textLength="68.7" lengthAdjust="spacingAndGlyphs">9,412</text>
<text transform="translate(1672.0,1374.6) rotate(-90)" font-size="27.4" text-anchor="end" textLength="68.7" lengthAdjust="spacingAndGlyphs">9,549</text>
<text transform="translate(1710.2,1374.6) rotate(-90)" font-size="27.4" text-anchor="end" textLength="68.7" lengthAdjust="spacingAndGlyphs">9,764</text>
<text transform="translate(1748.3,1374.6) rotate(-90)" font-size="27.4" text-anchor="end" textLength="68.7" lengthAdjust="spacingAndGlyphs">9,952</text>
<text transform="translate(1786.5,1374.6) rotate(-90)" font-size="27.4" text-anchor="end" textLength="84.0" lengthAdjust="spacingAndGlyphs">10,153</text>
<text transform="translate(1824.6,1374.6) rotate(-90)" font-size="27.4" text-anchor="end" textLength="84.0" lengthAdjust="spacingAndGlyphs">10,330</text>
<text transform="translate(1862.7,1374.6) rotate(-90)" font-size="27.4" text-anchor="end" textLength="84.0" lengthAdjust="spacingAndGlyphs">10,430</text>
<text transform="translate(1900.9,1374.6) rotate(-90)" font-size="27.4" text-anchor="end" textLength="84.0" lengthAdjust="spacingAndGlyphs">10,629</text>
<text transform="translate(1939.0,1374.6) rotate(-90)" font-size="27.4" text-anchor="end" textLength="84.0" lengthAdjust="spacingAndGlyphs">10,873</text>
<text transform="translate(1977.2,1374.6) rotate(-90)" font-size="27.4" text-anchor="end" textLength="84.0" lengthAdjust="spacingAndGlyphs">11,103</text>
<text transform="translate(2015.3,1374.6) rotate(-90)" font-size="27.4" text-anchor="end" textLength="84.0" lengthAdjust="spacingAndGlyphs">11,383</text>
<text transform="translate(2053.4,1374.6) rotate(-90)" font-size="27.4" text-anchor="end" textLength="84.0" lengthAdjust="spacingAndGlyphs">11,646</text>
<text transform="translate(2091.6,1374.6) rotate(-90)" font-size="27.4" text-anchor="end" textLength="84.0" lengthAdjust="spacingAndGlyphs">11,880</text>
<text transform="translate(2129.7,1374.6) rotate(-90)" font-size="27.4" text-anchor="end" textLength="84.0" lengthAdjust="spacingAndGlyphs">12,109</text>
<text transform="translate(2167.9,1374.6) rotate(-90)" font-size="27.4" text-anchor="end" textLength="84.0" lengthAdjust="spacingAndGlyphs">12,310</text>
<rect x="236" y="36" width="59.5" height="17" fill="#D9D9D9"/>
<text x="302.5" y="54" font-size="27.9" text-anchor="start" textLength="64" lengthAdjust="spacingAndGlyphs">&lt;UT2</text>
<rect x="400" y="36" width="59.5" height="17" fill="#FFC000"/>
<text x="474" y="54" font-size="27.9" text-anchor="start" textLength="48.5" lengthAdjust="spacingAndGlyphs">UT2</text>
<rect x="556" y="36" width="59.5" height="17" fill="#92D050"/>
<text x="631" y="54" font-size="27.9" text-anchor="start" textLength="47.5" lengthAdjust="spacingAndGlyphs">UT1</text>
<rect x="712" y="36" width="59.5" height="17" fill="#00B0F0"/>
<text x="786" y="54" font-size="27.9" text-anchor="start" textLength="31.5" lengthAdjust="spacingAndGlyphs">AT</text>
<rect x="851" y="36" width="59.5" height="17" fill="#7030A0"/>
<text x="926" y="54" font-size="27.9" text-anchor="start" textLength="29.5" lengthAdjust="spacingAndGlyphs">TR</text>
<rect x="988.5" y="36" width="59.5" height="17" fill="#FF0000"/>
<text x="1061" y="54" font-size="27.9" text-anchor="start" textLength="36.5" lengthAdjust="spacingAndGlyphs">AN</text>
<line x1="1132" y1="45" x2="1190" y2="45" stroke="#000" stroke-width="6" stroke-linecap="round"/>
<text x="1205.5" y="54" font-size="27.9" text-anchor="start" textLength="48.5" lengthAdjust="spacingAndGlyphs">UT2</text>
<line x1="1288" y1="45" x2="1346" y2="45" stroke="#000" stroke-width="6" stroke-linecap="round"/>
<text x="1361.5" y="54" font-size="27.9" text-anchor="start" textLength="47.5" lengthAdjust="spacingAndGlyphs">UT1</text>
<line x1="1444.5" y1="45" x2="1502.5" y2="45" stroke="#000" stroke-width="6" stroke-linecap="round"/>
<text x="1516.5" y="54" font-size="27.9" text-anchor="start" textLength="31.5" lengthAdjust="spacingAndGlyphs">AT</text>
<line x1="1582" y1="45" x2="1640" y2="45" stroke="#000" stroke-width="6" stroke-linecap="round"/>
<text x="1656.5" y="54" font-size="27.9" text-anchor="start" textLength="29.5" lengthAdjust="spacingAndGlyphs">TR</text>
<line x1="1720" y1="45" x2="1778" y2="45" stroke="#000" stroke-width="6" stroke-linecap="round"/>
<text x="1793" y="54" font-size="27.9" text-anchor="start" textLength="36.5" lengthAdjust="spacingAndGlyphs">AN</text>
<rect x="1892" y="43.5" width="8.5" height="3" fill="#000"/>
<text x="1929" y="54" font-size="27.9" text-anchor="start" textLength="116.5" lengthAdjust="spacingAndGlyphs">AVG SPM</text>
</svg></body></html>
